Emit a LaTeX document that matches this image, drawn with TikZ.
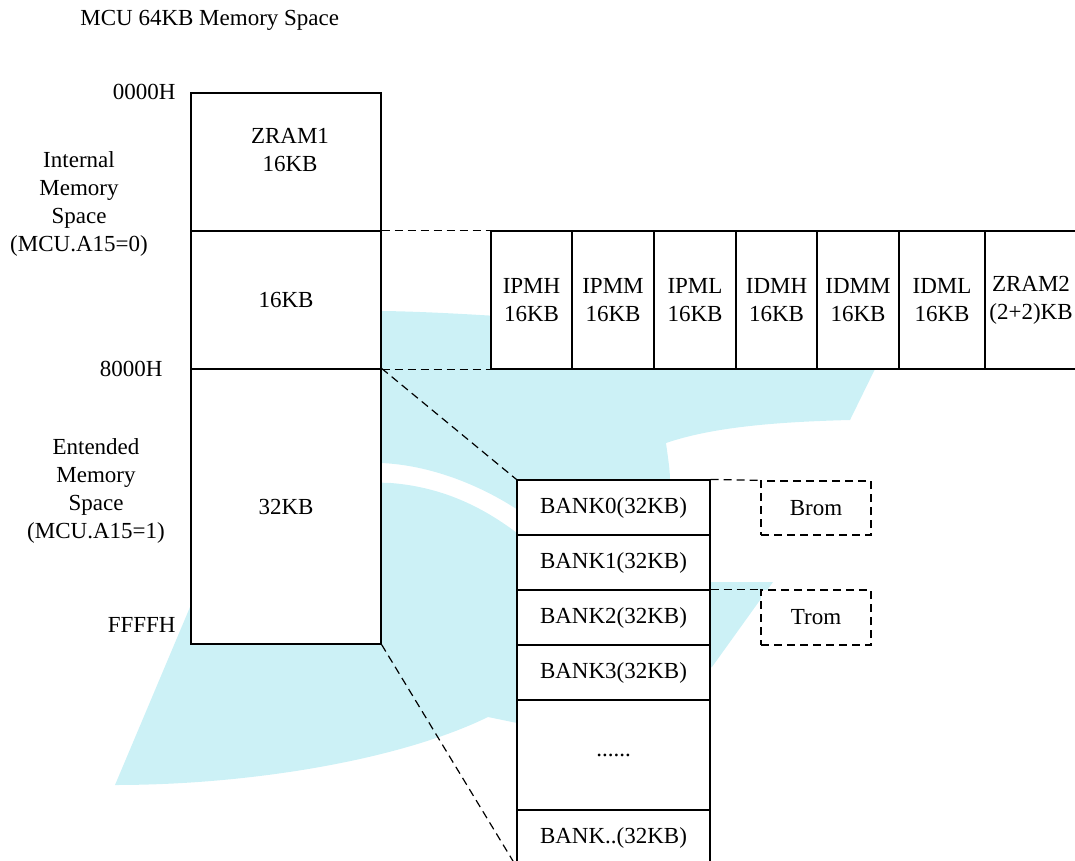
\documentclass[tikz,border=0pt]{standalone}
\usepackage{fontspec}
\setmainfont{Liberation Serif}
\usepackage{tikz}
\definecolor{wm_cyan}{RGB}{204, 241, 246}

\begin{document}
\begin{tikzpicture}[
        x=0.5pt, y=-0.5pt,
        font=\fontsize{11.5}{14}\selectfont,
        every node/.style={inner sep=1pt},
        cell/.style={draw, line width=0.6pt, fill=white, align=center, inner sep=0pt},
        dashcell/.style={cell, dash pattern=on 4pt off 2.5pt},
        conn/.style={line width=0.6pt, dash pattern=on 4pt off 2.5pt}
    ]
        \useasboundingbox (0,0) rectangle (1075,861);

        % -------- Sfondo (filigrana) --------
        \fill[wm_cyan] (300,311) -- (383,311) .. controls (450,312) and (520,318) .. (600,322)
            -- (895,330) -- (875,369) -- (850,420)
            .. controls (770,422) and (710,428) .. (666,443)
            .. controls (668,458) and (670,470) .. (670,480) -- (670,500) -- (518,510)
            .. controls (480,485) and (430,465) .. (381,463) -- (300,463) -- cycle;
        \fill[wm_cyan] (193,600) -- (115,785) .. controls (250,785) and (400,760) .. (488,717)
            -- (517,723) -- (600,720) -- (712,667) -- (773,582) -- (710,582) -- (600,560) -- (517,533)
            .. controls (480,505) and (440,487) .. (391,483) -- (300,480) -- cycle;

        % -------- Titolo ed etichette --------
        \node[anchor=west] (title) at (78,20) {MCU 64KB Memory Space};
        \node[anchor=east] (a0000) at (178,92) {0000H};
        \node[anchor=east] (a8000) at (165,369) {8000H};
        \node[anchor=east] (affff) at (178,625) {FFFFH};
        \node[align=center] (intlab) at (79,204) {Internal\\Memory\\Space\\(MCU.A15=0)};
        \node[align=center] (extlab) at (96,491) {Entended\\Memory\\Space\\(MCU.A15=1)};

        % -------- Spazio 64KB --------
        \node[cell, minimum width=95pt, minimum height=69pt,
              label={[align=center, xshift=2pt, yshift=6pt]center:ZRAM1\\16KB}] (zram1) at (286,162) {};
        \node[cell, minimum width=95pt, minimum height=69pt] (mid) at (286,300) {16KB};
        \node[cell, minimum width=95pt, minimum height=137.5pt] (ext) at (286,506.5) {32KB};

        % -------- Blocchi interni 16KB --------
        \foreach \nm/\l/\r/\lab in {ipmh/491/572/{IPMH\\16KB}, ipmm/572/654/{IPMM\\16KB},
                ipml/654/736/{IPML\\16KB}, idmh/736/817/{IDMH\\16KB}, idmm/817/899/{IDMM\\16KB},
                idml/899/985/{IDML\\16KB}, zram2/985/1077/{ZRAM2\\(2+2)KB}}{
            \node[cell, minimum width={(\r-\l)*0.5pt}, minimum height=69pt] (\nm) at ({(\l+\r)/2}, 300) {\lab};
        }

        % -------- Banchi esterni --------
        \foreach \nm/\t/\b/\lab in {bank0/480/535/{BANK0(32KB)}, bank1/535/590/{BANK1(32KB)},
                bank2/590/645/{BANK2(32KB)}, bank3/645/700/{BANK3(32KB)},
                bankd/700/810/{......}, bankn/810/866/{BANK..(32KB)}}{
            \node[cell, minimum width=96.5pt, minimum height={(\b-\t)*0.5pt}] (\nm) at (613.5, {(\t+\b)/2}) {\lab};
        }

        \node[dashcell, minimum width=55pt, minimum height=27pt] (brom) at (816,508) {Brom};
        \node[dashcell, minimum width=55pt, minimum height=27.5pt] (trom) at (816,617.5) {Trom};

        % -------- Collegamenti --------
        \draw[conn] (mid.north east) -- (ipmh.north west);
        \draw[conn] (mid.south east) -- (ipmh.south west);
        \draw[conn] (ext.north east) -- (bank0.north west);
        \draw[conn] (ext.south east) -- (bankn.south west);
        \draw[conn] (bank0.north east) -- (brom.north west);
        \draw[conn] (bank2.north east) -- (trom.north west);

    \end{tikzpicture}
\end{document}
